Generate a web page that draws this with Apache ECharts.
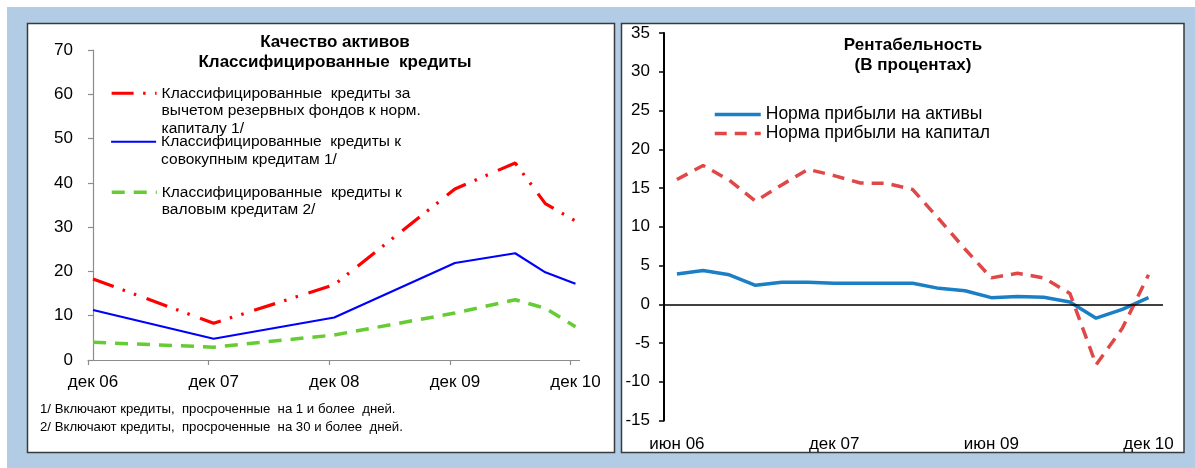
<!DOCTYPE html>
<html>
<head>
<meta charset="utf-8">
<script src="https://cdn.jsdelivr.net/npm/echarts@6/dist/echarts.min.js"></script>
<style>html,body{margin:0;padding:0;background:#fff}#c{width:1195px;height:468px}</style>
</head>
<body>
<div id="c"></div>
<script>
// ---- Left panel: asset quality (classified loans) ----
const leftMonths = [0, 12, 24, 36, 42, 45, 48];           // months from Dec 2006
const leftTickLabels = ['дек 06', 'дек 07', 'дек 08', 'дек 09', 'дек 10'];
const leftLabelMonths = [0, 12, 24, 36, 48];
const leftNetOfProvisions = [18.3, 8.3, 17.0, 38.6, 44.5, 35.3, 31.4];
const leftToTotalLoans = [11.3, 4.8, 9.6, 21.9, 24.1, 19.8, 17.2];
const leftToGrossLoans = [4.0, 2.9, 5.65, 10.6, 13.6, 11.7, 7.5];
const leftNames = [
  'Классифицированные  кредиты за\nвычетом резервных фондов к норм.\nкапиталу 1/',
  'Классифицированные  кредиты к\nсовокупным кредитам 1/',
  'Классифицированные  кредиты к\nваловым кредитам 2/'
];
const leftFootnotes = [
  '1/ Включают кредиты,  просроченные  на 1 и более  дней.',
  '2/ Включают кредиты,  просроченные  на 30 и более  дней.'
];

// ---- Right panel: profitability ----
const rightMonths = [0, 3, 6, 9, 12, 15, 18, 21, 24, 27, 30, 33, 36, 39, 42, 45, 48, 51, 54]; // months from Jun 2006
const rightTickLabels = ['июн 06', 'дек 07', 'июн 09', 'дек 10'];
const rightLabelMonths = [0, 18, 36, 54];
const roa = [3.9, 4.35, 3.8, 2.45, 2.85, 2.85, 2.7, 2.7, 2.7, 2.7, 2.05, 1.75, 0.85, 1.0, 0.9, 0.3, -1.8, -0.65, 0.85];
const roe = [16.1, 17.9, 16.0, 13.3, 15.4, 17.4, 16.6, 15.65, 15.6, 14.8, 11.0, 7.1, 3.4, 4.0, 3.4, 1.4, -7.8, -3.1, 3.8];
const rightNames = ['Норма прибыли на активы', 'Норма прибыли на капитал'];

const FONT = 'Liberation Sans, Arial, sans-serif';
const pair = (xs, ys) => xs.map((x, i) => [x, ys[i]]);
// put the first text line level with the legend line: pad the label with blank lines above
const firstLineOnIcon = name => '\n'.repeat(name.split('\n').length - 1) + name;

const chart = echarts.init(document.getElementById('c'), null, {renderer: 'canvas'});

const leftMap = {};
leftLabelMonths.forEach((m, i) => leftMap[m] = leftTickLabels[i]);
const rightMap = {};
rightLabelMonths.forEach((m, i) => rightMap[m] = rightTickLabels[i]);

const leftLegendText = {fontFamily: FONT, fontSize: 15.5, color: '#000', lineHeight: 17.5};
const leftLegend = (name, top, width) => ({
  data: [{name: name, lineStyle: {width: width}}], left: 110, top: top, padding: 0, itemWidth: 45, itemHeight: 14,
  orient: 'vertical', itemStyle: {opacity: 0}, formatter: firstLineOnIcon, textStyle: leftLegendText
});

const option = {
  animation: false,
  backgroundColor: '#ffffff',
  textStyle: {fontFamily: FONT},
  graphic: [
    {type: 'rect', z: -100, shape: {x: 7, y: 7, width: 1188, height: 461}, style: {fill: '#b1cce4'}},
    {type: 'rect', z: -90, shape: {x: 27.5, y: 23.5, width: 587, height: 429}, style: {fill: '#fff', stroke: '#3a3a3a', lineWidth: 1.5}},
    {type: 'rect', z: -90, shape: {x: 621.5, y: 23.5, width: 562.5, height: 429}, style: {fill: '#fff', stroke: '#3a3a3a', lineWidth: 1.5}}
  ],
  title: [
    {text: 'Качество активов\nКлассифицированные  кредиты', left: 335, top: 32, padding: 0, textAlign: 'center',
     textStyle: {fontFamily: FONT, fontSize: 17, fontWeight: 'bold', color: '#000', lineHeight: 20}},
    {text: 'Рентабельность\n(В процентах)', left: 913, top: 35, padding: 0, textAlign: 'center',
     textStyle: {fontFamily: FONT, fontSize: 17, fontWeight: 'bold', color: '#000', lineHeight: 20.5}},
    {text: leftFootnotes.join('\n'), left: 40, top: 400, padding: 0,
     textStyle: {fontFamily: FONT, fontSize: 13.2, fontWeight: 'normal', color: '#000', lineHeight: 18}}
  ],
  legend: [
    leftLegend(leftNames[0], 49.5, 3.2),
    leftLegend(leftNames[1], 115.5, 2.2),
    leftLegend(leftNames[2], 166, 3.5),
    {data: [{name: rightNames[0], lineStyle: {width: 3.5}}, {name: rightNames[1], lineStyle: {width: 3.5}}],
     left: 713, top: 105, padding: 0, itemWidth: 46, itemHeight: 14, itemGap: 0, orient: 'vertical',
     itemStyle: {opacity: 0},
     textStyle: {fontFamily: FONT, fontSize: 17.5, color: '#000', lineHeight: 19}}
  ],
  grid: [
    {left: 88, right: 615.5, top: 50, bottom: 108, containLabel: false},
    {left: 664, right: 32, top: 33, bottom: 47.5, containLabel: false}
  ],
  xAxis: [
    {type: 'value', gridIndex: 0, min: -0.5, max: 48.4, splitLine: {show: false},
     axisLine: {show: true, onZero: false, lineStyle: {color: '#8c8c8c', width: 1.2}},
     axisTick: {show: true, length: 5, lineStyle: {color: '#8c8c8c', width: 1.2}, customValues: [-0.5, 11.5, 23.5, 35.5, 47.5]},
     axisLabel: {customValues: leftLabelMonths, formatter: v => leftMap[v] || '', margin: 13.5,
       fontFamily: FONT, fontSize: 17, color: '#000'}},
    {type: 'value', gridIndex: 1, min: -1.48, max: 55.66, splitLine: {show: false},
     axisLine: {show: false, onZero: false}, axisTick: {show: false},
     axisLabel: {customValues: rightLabelMonths, formatter: v => rightMap[v] || '', margin: 15,
       fontFamily: FONT, fontSize: 17, color: '#000'}}
  ],
  yAxis: [
    {type: 'value', gridIndex: 0, min: 0, max: 70, interval: 10, splitLine: {show: false},
     axisLine: {show: true, lineStyle: {color: '#8c8c8c', width: 1.2}},
     axisTick: {show: true, length: 5, lineStyle: {color: '#8c8c8c', width: 1.2}},
     axisLabel: {margin: 15, fontFamily: FONT, fontSize: 17, color: '#000'}},
    {type: 'value', gridIndex: 1, min: -15, max: 35, interval: 5, splitLine: {show: false},
     axisLine: {show: true, onZero: false, lineStyle: {color: '#000', width: 2}},
     axisTick: {show: true, length: 5, lineStyle: {color: '#000', width: 1.5}},
     axisLabel: {margin: 14, fontFamily: FONT, fontSize: 17, color: '#000'}}
  ],
  series: [
    {name: leftNames[0], type: 'line', xAxisIndex: 0, yAxisIndex: 0, data: pair(leftMonths, leftNetOfProvisions),
     showSymbol: false, symbol: 'none', color: '#ff0000',
     lineStyle: {color: '#ff0000', width: 3.2, type: [22, 9.5, 2.5, 9.5, 2.5, 11], cap: 'butt'}},
    {name: leftNames[1], type: 'line', xAxisIndex: 0, yAxisIndex: 0, data: pair(leftMonths, leftToTotalLoans),
     showSymbol: false, symbol: 'none', color: '#0000ff',
     lineStyle: {color: '#0000ff', width: 2.2, type: 'solid'}},
    {name: leftNames[2], type: 'line', xAxisIndex: 0, yAxisIndex: 0, data: pair(leftMonths, leftToGrossLoans),
     showSymbol: false, symbol: 'none', color: '#66cc33',
     lineStyle: {color: '#66cc33', width: 3.5, type: [13, 9], cap: 'butt'}},
    {name: rightNames[0], type: 'line', xAxisIndex: 1, yAxisIndex: 1, data: pair(rightMonths, roa),
     showSymbol: false, symbol: 'none', color: '#1a7fc4', z: 3,
     lineStyle: {color: '#1a7fc4', width: 3.5, type: 'solid'},
     markLine: {silent: true, symbol: 'none', label: {show: false}, animation: false,
       lineStyle: {color: '#000', width: 1.5, type: 'solid'}, data: [{yAxis: 0}]}},
    {name: rightNames[1], type: 'line', xAxisIndex: 1, yAxisIndex: 1, data: pair(rightMonths, roe),
     showSymbol: false, symbol: 'none', color: '#e04848', z: 4,
     lineStyle: {color: '#e04848', width: 3.5, type: [12, 8], cap: 'butt'}}
  ]
};
chart.setOption(option);
</script>
</body>
</html>
